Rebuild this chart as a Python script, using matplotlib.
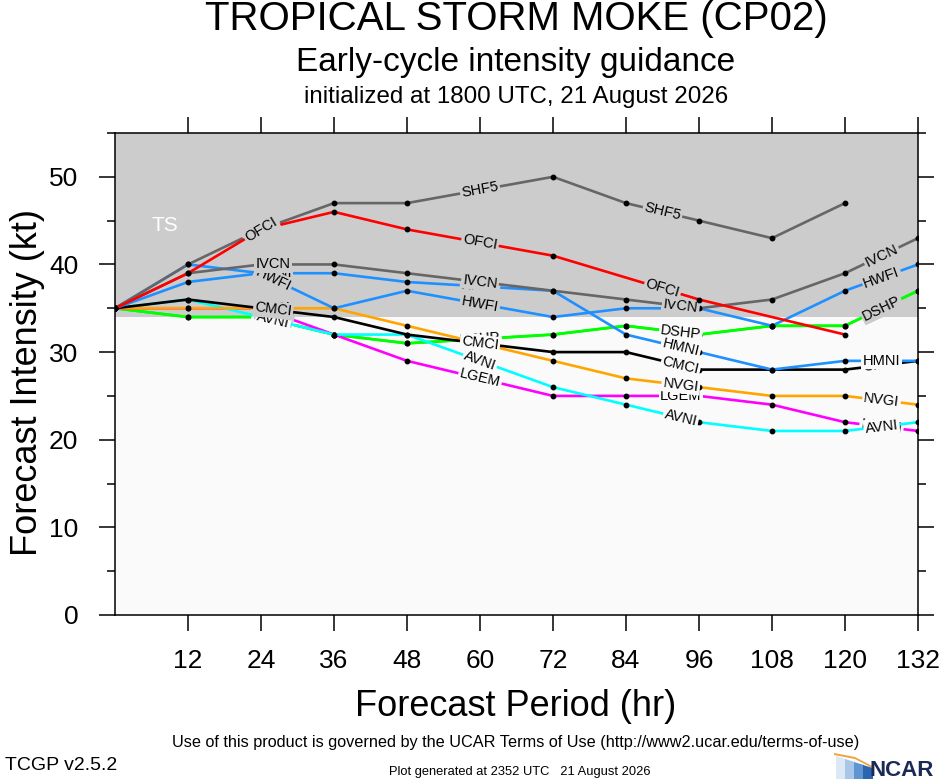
import matplotlib
matplotlib.use('Agg')
import matplotlib.pyplot as plt
import numpy as np
from matplotlib.patches import Polygon

plt.rcParams['font.family'] = ['Liberation Sans', 'DejaVu Sans']

# forecast hours of the guidance models and of the official forecast
hours = [0, 12, 24, 36, 48, 72, 84, 96, 108, 120, 132]
ofci_hours = [0, 12, 24, 36, 48, 72, 96, 120]

# intensities (kt)
ship = [35, 34, 34, 32, 31, 32, 33, 32, 33, 33, 37]
dshp = [35, 34, 34, 32, 31, 32, 33, 32, 33, 33, 37]
lgem = [35, 35, 35, 32, 29, 25, 25, 25, 24, 22, 21]
avni = [35, 36, 34, 32, 32, 26, 24, 22, 21, 21, 22]
nvgi = [35, 35, 35, 35, 33, 29, 27, 26, 25, 25, 24]
cmci = [35, 36, 35, 34, 32, 30, 30, 28, 28, 28, 29]
hmni = [35, 38, 39, 39, 38, 37, 32, 30, 28, 29, 29]
hwfi = [35, 40, 39, 35, 37, 34, 35, 35, 33, 37, 40]
ivcn = [35, 39, 40, 40, 39, 37, 36, 35, 36, 39, 43]
shf5 = [35, 40, 44, 47, 47, 50, 47, 45, 43, 47, np.nan]
ofci = [35, 39, 44, 46, 44, 41, 36, 32]

ts_threshold = 34

series = [
    ('SHIP', hours, ship, '#00ff00'),
    ('DSHP', hours, dshp, '#00ff00'),
    ('LGEM', hours, lgem, '#ff00ff'),
    ('AVNI', hours, avni, '#00ffff'),
    ('NVGI', hours, nvgi, '#ffa500'),
    ('CMCI', hours, cmci, 'black'),
    ('HMNI', hours, hmni, '#1e90ff'),
    ('HWFI', hours, hwfi, '#1e90ff'),
    ('IVCN', hours, ivcn, '#666666'),
    ('SHF5', hours, shf5, '#666666'),
    ('OFCI', ofci_hours, ofci, '#ff0000'),
]

LABEL_HOURS = (26, 60, 93, 126)
SHORT_LABEL_HOURS = (24, 60, 90)
LOW_BG = '#fafafa'
TS_BG = '#cccccc'

fig = plt.figure(figsize=(9.4, 7.8), dpi=100)
ax = fig.add_axes([115 / 940, 1 - 615 / 780, 803 / 940, 482 / 780])
ax.set_facecolor(LOW_BG)
ax.axhspan(ts_threshold, 64, color=TS_BG, zorder=0, lw=0)
ax.text(8.2, 44.4, 'TS', color='white', fontsize=15, ha='center', va='center', zorder=1)

for i, (name, t, v, col) in enumerate(series):
    t = np.asarray(t, float)
    v = np.asarray(v, float)
    z = 2 + i * 0.1
    ok = ~np.isnan(v)
    ax.plot(t[ok], v[ok], color=col, lw=1.9, zorder=z, solid_capstyle='butt')
    ax.plot(t[ok], v[ok], 'o', color='black', ms=3.2, zorder=z + 0.01)
    tt, vv = t[ok], v[ok]
    spots = LABEL_HOURS if tt[-1] >= 132 else SHORT_LABEL_HOURS
    for h in spots:
        k = np.searchsorted(tt, h) - 1
        k = min(max(k, 0), len(tt) - 2)
        y = np.interp(h, tt, vv)
        ang = np.degrees(np.arctan2(vv[k + 1] - vv[k], tt[k + 1] - tt[k]))
        bg = TS_BG if y >= ts_threshold else LOW_BG
        ax.text(h, y, name, rotation=ang, transform_rotates_text=True,
                rotation_mode='anchor', ha='center', va='center', fontsize=10.5,
                bbox=dict(boxstyle='square,pad=0.1', fc=bg, ec='none'),
                zorder=z + 0.02)

ax.set_xlim(0, 132)
ax.set_ylim(0, 55)
ax.set_xticks(range(12, 133, 12))
ax.set_yticks(range(0, 51, 10))
ax.set_yticks(range(5, 56, 10), minor=True)
ax.tick_params(which='major', direction='out', length=11.5, width=1.1,
               top=True, right=True, labelsize=19)
ax.tick_params(axis='y', which='major', pad=15)
ax.tick_params(axis='x', which='major', pad=13)
ax.tick_params(which='minor', direction='out', length=5.8, width=1.1, right=True)
for s in ax.spines.values():
    s.set_linewidth(1.1)

cx = 516 / 940
fig.text(cx, 1 - 19 / 780, 'TROPICAL STORM MOKE (CP02)', ha='center', va='center', fontsize=29)
fig.text(cx, 1 - 62 / 780, 'Early-cycle intensity guidance', ha='center', va='center', fontsize=24)
fig.text(cx, 1 - 97 / 780, 'initialized at 1800 UTC, 21 August 2026', ha='center', va='center', fontsize=17.4)
fig.text(cx, 1 - 706 / 780, 'Forecast Period (hr)', ha='center', va='center', fontsize=26)
fig.text(28 / 940, 1 - 382 / 780, 'Forecast Intensity (kt)', ha='center', va='center',
         rotation=90, fontsize=26)

fig.text(cx, 1 - 742 / 780,
         'Use of this product is governed by the UCAR Terms of Use (http://www2.ucar.edu/terms-of-use)',
         ha='center', va='center', fontsize=11.7)
fig.text(5 / 940, 1 - 766 / 780, 'TCGP v2.5.2', ha='left', va='center', fontsize=14)
fig.text(520 / 940, 1 - 772 / 780, 'Plot generated at 2352 UTC   21 August 2026',
         ha='center', va='center', fontsize=9.3)

# NCAR logo
def fpt(x, y):
    return (x / 940, 1 - y / 780)

blues = ['#dce8f5', '#a9c6e8', '#5f95d0', '#2a66b0']
for j, c in enumerate(blues):
    x0 = 836 + j * 9
    fig.patches.append(Polygon([fpt(x0, 756 + j * 3), fpt(x0 + 10, 759 + j * 3),
                                fpt(x0 + 10, 779), fpt(x0, 779)],
                               closed=True, fc=c, ec='none', transform=fig.transFigure))
fig.patches.append(Polygon([fpt(834, 753), fpt(855, 757), fpt(874, 767), fpt(874, 769),
                            fpt(855, 759), fpt(834, 755)],
                           closed=True, fc='#f2a33a', ec='none', transform=fig.transFigure))
fig.text(934 / 940, 1 - 770 / 780, 'NCAR', ha='right', va='center', fontsize=16,
         fontweight='bold', color='#1b2a55')

fig.savefig('out.png', dpi=100, facecolor='white')
